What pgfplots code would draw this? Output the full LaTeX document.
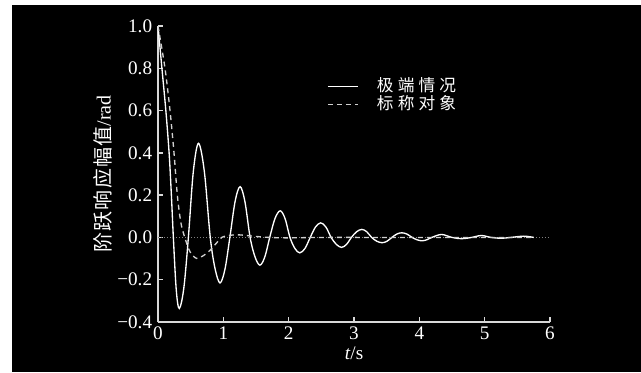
\documentclass[border=0pt]{standalone}
\usepackage{fontspec}
\setmainfont{Liberation Serif}
\newfontfamily\cjkw{Noto Sans CJK SC}[LetterSpace=25]
\newfontfamily\cjky{Noto Sans CJK SC}[LetterSpace=6]
\usepackage{pgfplots}
\pgfplotsset{compat=1.18}
\definecolor{axgray}{HTML}{D8D8D8}
\definecolor{dashgray}{HTML}{CFCFCF}
\begin{document}
\begin{tikzpicture}
\path[use as bounding box, fill=white] (0,0) rectangle (384.6pt,223.2pt);
\fill[black] (7.2pt,0) rectangle (384.6pt,220.2pt);
\begin{axis}[
  at={(94.8pt,30pt)}, anchor=south west,
  scale only axis, width=235.2pt, height=177.6pt,
  xmin=0, xmax=6, ymin=-0.4, ymax=1.0,
  axis lines=left, axis line style={-, axgray, line width=0.9pt},
  tick align=inside, major tick length=3pt,
  tick style={axgray, line width=0.9pt},
  xtick={0,1,2,3,4,5,6},
  ytick={-0.4,-0.2,0,0.2,0.4,0.6,0.8,1.0},
  yticklabels={−0.4,−0.2,0.0,0.2,0.4,0.6,0.8,1.0},
  /pgf/number format/assume math mode=true,
  ticklabel style={font=\fontsize{11.5}{13}\selectfont, text=white},
  xticklabel style={yshift=-1.8pt, inner ysep=1pt},
  xlabel={\textit{t}/s},
  xlabel style={at={(axis description cs:0.5,0)}, anchor=center, yshift=-18.8pt, inner ysep=0pt, font=\fontsize{11.5}{13}\selectfont, text=white},
  ylabel={{\cjky 阶跃响应幅值}/rad},
  ylabel style={at={(axis description cs:0,0.5)}, anchor=center, yshift=33pt, font=\fontsize{12}{14}\selectfont, text=white},
  clip=false,
  legend cell align=left,
  legend image code/.code={\draw[#1] (0pt,0pt) -- (18pt,0pt);},
  legend style={at={(axis description cs:0.431,0.765)}, anchor=west, draw=none, fill=none, text=white,
    inner sep=0pt, column sep=11pt, row sep=1.8pt,
    nodes={inner sep=0pt, text height=7.5pt, text depth=1.5pt},
    font=\fontsize{10}{12}\selectfont\cjkw},
]
\addplot[gray, densely dotted, line width=0.8pt, forget plot] coordinates {(0,0) (6,0)};
\addplot[white, line width=0.8pt, smooth, tension=0.55] coordinates {
(0,1.0) (0.06,0.8) (0.12,0.6) (0.17,0.4) (0.205,0.2) (0.235,0) (0.28,-0.25)
(0.326,-0.336) (0.395,-0.24) (0.465,0) (0.54,0.31) (0.62,0.445) (0.71,0.31)
(0.80,0) (0.875,-0.15) (0.95,-0.215) (1.025,-0.15) (1.10,0) (1.18,0.17)
(1.256,0.24) (1.33,0.17) (1.41,0) (1.485,-0.092) (1.56,-0.131) (1.635,-0.092)
(1.71,0) (1.79,0.089) (1.87,0.126) (1.945,0.089) (2.02,0) (2.095,-0.052)
(2.17,-0.073) (2.25,-0.052) (2.33,0) (2.41,0.049) (2.49,0.069) (2.57,0.049)
(2.65,0) (2.73,-0.033) (2.81,-0.047) (2.885,-0.033) (2.96,0) (3.04,0.027)
(3.12,0.038) (3.195,0.027) (3.27,0) (3.35,-0.018) (3.43,-0.025) (3.505,-0.018)
(3.58,0) (3.655,0.016) (3.73,0.022) (3.81,0.016) (3.89,0) (3.965,-0.011)
(4.04,-0.016) (4.115,-0.011) (4.19,0) (4.34,0.014) (4.5,0) (4.65,-0.006)
(4.8,0) (4.95,0.009) (5.1,0) (5.25,-0.004) (5.4,0) (5.6,0.006) (5.75,0)
};
\addlegendentry{极端情况}
\addplot[dashgray, line width=0.8pt, dash pattern=on 3pt off 2.4pt, smooth, tension=0.5] coordinates {
(0,1.0) (0.107,0.8) (0.184,0.6) (0.245,0.4) (0.296,0.2) (0.35,0.07) (0.41,0)
(0.49,-0.068) (0.59,-0.099) (0.70,-0.085) (0.80,-0.06) (0.90,-0.025) (0.975,0)
(1.10,0.01) (1.25,0.012) (1.45,0.006) (1.7,0) (2.0,-0.002) (2.5,0) (3.5,0) (4.5,0) (5.75,0)
};
\addlegendentry{标称对象}
\end{axis}
\end{tikzpicture}
\end{document}
